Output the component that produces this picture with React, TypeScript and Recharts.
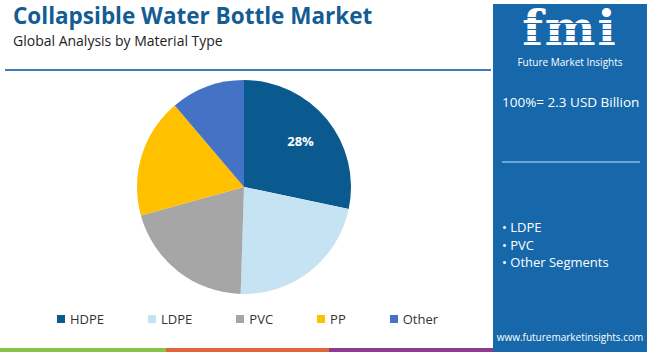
import { Legend, Pie, PieChart, Cell } from 'recharts'

const materials = ['HDPE', 'LDPE', 'PVC', 'PP', 'Other']
const shares = [28.3, 22.2, 20.2, 18.1, 11.2]
const colors = ['#0b5a8f', '#c5e3f3', '#a6a6a6', '#ffc000', '#4472c4']
const sideSegments = ['LDPE', 'PVC', 'Other Segments']

const data = materials.map((name, i) => ({ name, value: shares[i] }))

const font = '"Open Sans", "Noto Sans", sans-serif'

const renderLabel = (props: any) => {
  const { cx, cy, midAngle, outerRadius, percent, index } = props
  if (index !== 0) return null
  const r = outerRadius * 0.68
  const rad = (Math.PI / 180) * midAngle
  const x = cx + r * Math.cos(rad)
  const y = cy - r * Math.sin(rad)
  return (
    <text
      x={x}
      y={y}
      fill="#fff"
      fontSize={13}
      fontWeight={700}
      fontFamily={font}
      textAnchor="middle"
      dominantBaseline="central"
    >
      {`${Math.round(percent * 100)}%`}
    </text>
  )
}

const LegendContent = () => (
  <div style={{ display: 'flex', flexDirection: 'row', gap: 44, fontFamily: font }}>
    {materials.map((m, i) => (
      <div key={m} style={{ display: 'flex', alignItems: 'center', gap: 5 }}>
        <div style={{ width: 8, height: 8, background: colors[i] }} />
        <div style={{ fontSize: 13, color: '#333' }}>{m}</div>
      </div>
    ))}
  </div>
)

export default function App() {
  return (
    <div
      style={{
        position: 'fixed',
        left: 0,
        top: 0,
        width: 650,
        height: 352,
        background: '#fff',
        overflow: 'hidden',
        fontFamily: font,
      }}
    >
      <div
        style={{
          position: 'absolute',
          left: 13,
          top: 1,
          fontSize: 22.5,
          lineHeight: '30px',
          fontWeight: 700,
          color: '#135c94',
        }}
      >
        Collapsible Water Bottle Market
      </div>
      <div style={{ position: 'absolute', left: 13, top: 32, fontSize: 14, lineHeight: '18px', color: '#222' }}>
        Global Analysis by Material Type
      </div>
      <div style={{ position: 'absolute', left: 5, top: 69, width: 486, height: 2, background: '#3a7dbf' }} />

      <PieChart width={650} height={352} margin={{ top: 0, right: 0, bottom: 0, left: 0 }}>
        <Pie
          data={data}
          dataKey="value"
          nameKey="name"
          cx={244}
          cy={187}
          outerRadius={107}
          startAngle={90}
          endAngle={-270}
          stroke="none"
          label={renderLabel}
          labelLine={false}
          isAnimationActive={false}
        >
          {data.map((d, i) => (
            <Cell key={d.name} fill={colors[i]} />
          ))}
        </Pie>
        <Legend
          content={<LegendContent />}
          wrapperStyle={{ position: 'absolute', left: 57, top: 310, width: 'auto' }}
        />
      </PieChart>

      <div style={{ position: 'absolute', left: 0, top: 348, width: 166, height: 4, background: '#8bc34a' }} />
      <div style={{ position: 'absolute', left: 166, top: 348, width: 163, height: 4, background: '#e0673a' }} />
      <div style={{ position: 'absolute', left: 329, top: 348, width: 170, height: 4, background: '#8e3a8e' }} />

      <div
        style={{
          position: 'absolute',
          left: 493,
          top: 4,
          width: 154,
          height: 348,
          background: '#1668ab',
          color: '#fff',
        }}
      >
        <div
          style={{
            position: 'absolute',
            left: 0,
            top: 0,
            width: 154,
            textAlign: 'center',
            fontFamily: '"DejaVu Serif", serif',
            fontWeight: 700,
            fontSize: 48,
            lineHeight: '48px',
            letterSpacing: 2,
          }}
        >
          fmi
        </div>
        {[13, 19, 25, 31, 37, 43].map((y) => (
          <div key={y} style={{ position: 'absolute', left: 20, top: y, width: 114, height: 1, background: '#1668ab' }} />
        ))}
        <div style={{ position: 'absolute', left: 0, top: 51, width: 154, textAlign: 'center', fontSize: 10 }}>
          Future Market Insights
        </div>
        <div style={{ position: 'absolute', left: 9, top: 89, fontSize: 13.5 }}>100%= 2.3 USD Billion</div>
        <div style={{ position: 'absolute', left: 9, top: 157, width: 138, height: 2, background: '#6aa6db' }} />
        <div style={{ position: 'absolute', left: 9, top: 215, fontSize: 13, lineHeight: '17.5px' }}>
          {sideSegments.map((s) => (
            <div key={s}>• {s}</div>
          ))}
        </div>
        <div style={{ position: 'absolute', left: 0, top: 326, width: 154, textAlign: 'center', fontSize: 10 }}>
          www.futuremarketinsights.com
        </div>
      </div>
    </div>
  )
}
